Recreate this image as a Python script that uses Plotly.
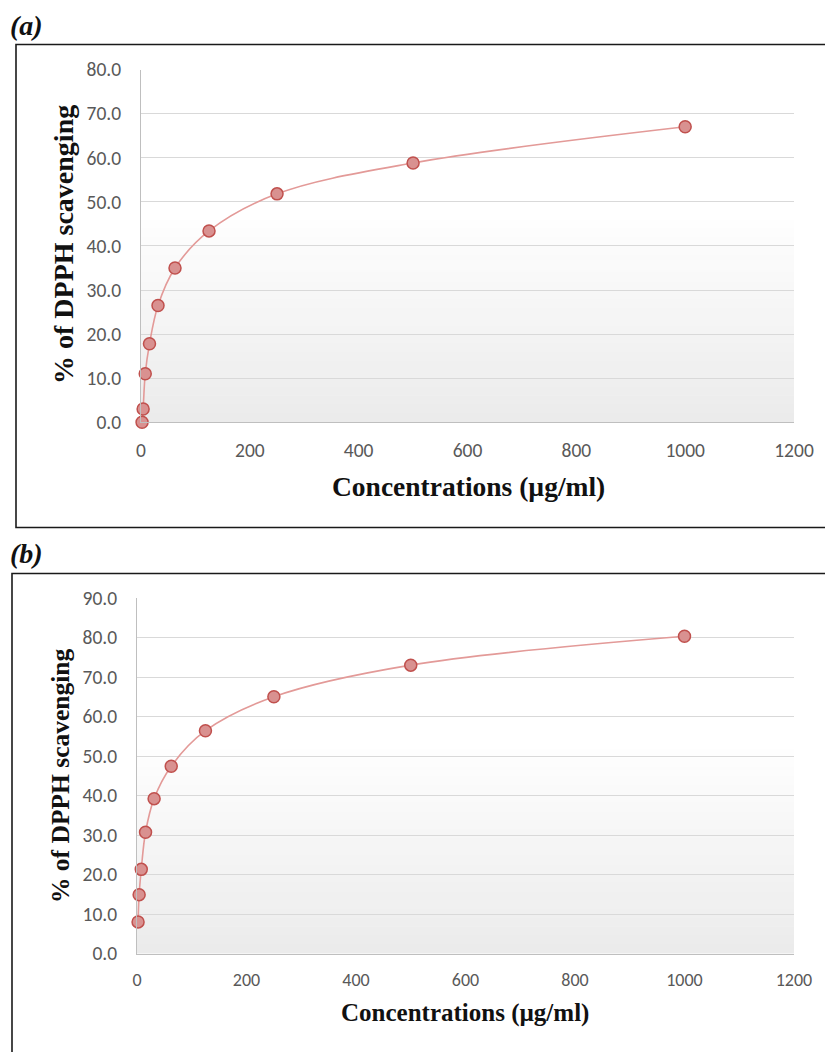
import plotly.graph_objects as go

# ---------------- data ----------------
conc = [1.95, 3.9, 7.8, 15.6, 31.25, 62.5, 125, 250, 500, 1000]
scav_a = [0.0, 3.0, 11.0, 17.8, 26.5, 35.0, 43.4, 51.8, 58.8, 67.0]
scav_b = [8.0, 14.9, 21.3, 30.7, 39.2, 47.4, 56.4, 65.0, 73.0, 80.3]
panel_labels = ["(a)", "(b)"]
x_title = "Concentrations (µg/ml)"
y_title = "% of DPPH scavenging"

W, H = 825, 1052
LINE_C = "#e39a98"
MK_FILL = "#d99190"
MK_EDGE = "#c0504d"
TICK_FONT = dict(family="Carlito, Lato, sans-serif", size=19.5, color="#595959")
TICK_FONT_B = dict(family="Liberation Sans Narrow, Carlito, Lato, sans-serif", size=18, color="#595959")
SERIF = "Liberation Serif, Times New Roman, serif"

def px_x(p):
    return p / W

def px_y(p):
    return 1 - p / H

fig = go.Figure()
for ser, xa, ya in [(scav_a, "x", "y"), (scav_b, "x2", "y2")]:
    fig.add_trace(go.Scatter(
        x=conc, y=ser, xaxis=xa, yaxis=ya, mode="lines+markers",
        line=dict(color=LINE_C, width=1.6, shape="spline", smoothing=1.0),
        marker=dict(size=12, color=MK_FILL, line=dict(color=MK_EDGE, width=1.5)),
        showlegend=False, cliponaxis=False,
    ))

common_x = dict(range=[0, 1200], tickvals=[0, 200, 400, 600, 800, 1000, 1200],
                showgrid=False, zeroline=False, showline=True, linecolor="#bfbfbf",
                linewidth=1, ticks="", ticklabelstandoff=10, automargin=False)
common_y = dict(showgrid=True, gridcolor="#d9d9d9", gridwidth=1, zeroline=False,
                showline=True, linecolor="#bfbfbf", linewidth=1, ticks="",
                tickformat=".1f", tickfont=TICK_FONT, ticklabelstandoff=15, automargin=False)

fig.update_layout(
    template="none",
    width=W, height=H, margin=dict(l=0, r=0, t=0, b=0, pad=0, autoexpand=False),
    paper_bgcolor="white", plot_bgcolor="white", showlegend=False,
    xaxis=dict(domain=[px_x(141), px_x(794)], anchor="y", tickfont=TICK_FONT, **common_x),
    yaxis=dict(domain=[px_y(422.3), px_y(69.5)], anchor="x", range=[0, 80], dtick=10, **common_y),
    xaxis2=dict(domain=[px_x(137), px_x(794)], anchor="y2", tickfont=TICK_FONT_B, **common_x),
    yaxis2=dict(domain=[px_y(953.5), px_y(598)], anchor="x2", range=[0, 90], dtick=10, **common_y),
)

shapes = []
N = 40
for xr, yr in [("x domain", "y domain"), ("x2 domain", "y2 domain")]:
    for i in range(N):
        f0 = i / N
        f1 = (i + 1) / N
        t = 1 - (f0 + f1) / 2
        g = 255 if t < 0.4 else int(round(255 - (t - 0.4) / 0.6 * 20))
        col = f"rgb({g},{g},{g})"
        shapes.append(dict(type="rect", xref=xr, yref=yr, x0=0, x1=1, y0=f0, y1=f1 + 0.002,
                           fillcolor=col, line=dict(width=0), layer="below"))
shapes.append(dict(type="rect", xref="paper", yref="paper",
                   x0=px_x(16), x1=1.02, y0=px_y(527.5), y1=px_y(44.5),
                   line=dict(color="#1a1a1a", width=1.6), fillcolor="rgba(0,0,0,0)", layer="above"))
shapes.append(dict(type="rect", xref="paper", yref="paper",
                   x0=px_x(12), x1=1.02, y0=-0.02, y1=px_y(573.5),
                   line=dict(color="#1a1a1a", width=1.6), fillcolor="rgba(0,0,0,0)", layer="above"))
fig.update_layout(shapes=shapes)

ann = []
for lab, (cx, cy) in zip(panel_labels, [(26, 25), (26, 553)]):
    ann.append(dict(text=f"<b><i>{lab}</i></b>", xref="paper", yref="paper",
                    x=px_x(cx), y=px_y(cy), xanchor="center", yanchor="middle", showarrow=False,
                    font=dict(family=SERIF, size=28, color="#111111")))
ann.append(dict(text=f"<b>{x_title}</b>", xref="paper", yref="paper", x=px_x(468), y=px_y(486),
                xanchor="center", yanchor="middle", showarrow=False,
                font=dict(family=SERIF, size=27.5, color="#111111")))
ann.append(dict(text=f"<b>{y_title}</b>", xref="paper", yref="paper", x=px_x(63), y=px_y(245),
                xanchor="center", yanchor="middle", showarrow=False, textangle=-90,
                font=dict(family=SERIF, size=28, color="#111111")))
ann.append(dict(text=f"<b>{x_title}</b>", xref="paper", yref="paper", x=px_x(465), y=px_y(1013),
                xanchor="center", yanchor="middle", showarrow=False,
                font=dict(family=SERIF, size=25, color="#111111")))
ann.append(dict(text=f"<b>{y_title}</b>", xref="paper", yref="paper", x=px_x(60), y=px_y(776),
                xanchor="center", yanchor="middle", showarrow=False, textangle=-90,
                font=dict(family=SERIF, size=25.5, color="#111111")))
fig.update_layout(annotations=ann)

fig.write_html("out.html", config={"displayModeBar": False},
               post_script="document.body.style.margin='0';document.body.style.overflow='hidden';"
                           "document.documentElement.style.overflow='hidden';")
